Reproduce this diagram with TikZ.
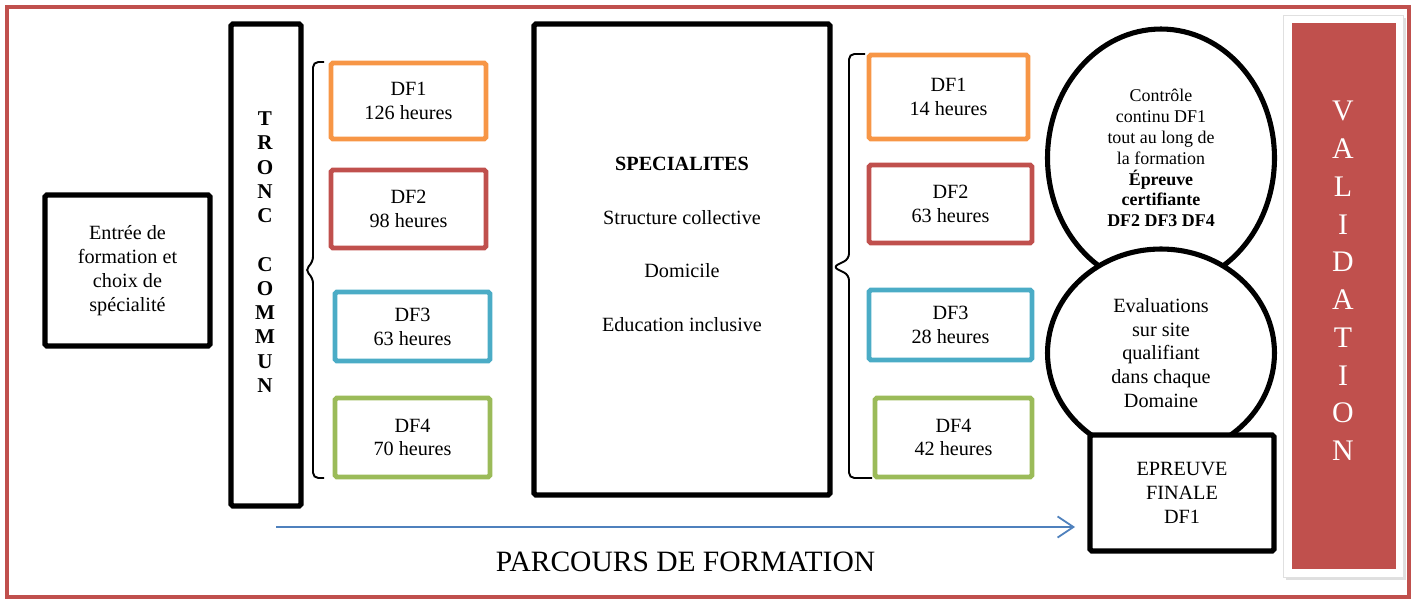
\documentclass[tikz,border=0pt]{standalone}
\usepackage{fontspec}
\setmainfont{Liberation Serif}
\usetikzlibrary{shapes.geometric,shadows,arrows.meta}
\definecolor{cadre}{HTML}{C0504D}
\definecolor{orangedf}{HTML}{F79646}
\definecolor{bleudf}{HTML}{4BACC6}
\definecolor{vertdf}{HTML}{9BBB59}
\definecolor{fleche}{HTML}{4F81BD}
\tikzset{
  bloc/.style={draw,line width=3pt,rounded corners=1pt,fill=white,align=center,font=\fontsize{11.5}{13.6}\selectfont},
  df/.style={draw=#1,line width=2.8pt,rounded corners=1pt,align=center,font=\fontsize{11.5}{13.6}\selectfont},
  bulle/.style={ellipse,draw,line width=2.9pt,fill=white,align=center,inner sep=0pt},
  accolade/.style={line width=1.1pt,rounded corners=3pt},
}
\begin{document}
\begin{tikzpicture}[x=0.02cm,y=-0.02cm]
\useasboundingbox (0,0) rectangle (1418,601);
\draw[cadre,line width=2.6pt] (7,7) rectangle (1409,597);
\path node[bloc,minimum width=3.3cm,minimum height=3.02cm] (entree) at (127.5,270.5) {Entrée de\\formation et\\choix de\\spécialité}
node[bloc,minimum width=1.4cm,minimum height=9.64cm] (tronc) at (266,265) {}
node[align=center,font=\fontsize{12}{13.8}\selectfont\bfseries] (troncTxt) at (265,252) {T\\R\\O\\N\\C\\~\\C\\O\\M\\M\\U\\N}
node[df=orangedf,minimum width=3.1cm,minimum height=1.52cm] (dfA1) at (408.5,101) {DF1\\126 heures}
node[df=cadre,minimum width=3.1cm,minimum height=1.56cm] (dfA2) at (408.5,209) {DF2\\98 heures}
node[df=bleudf,minimum width=3.1cm,minimum height=1.38cm] (dfA3) at (412.5,326.5) {DF3\\63 heures}
node[df=vertdf,minimum width=3.1cm,minimum height=1.58cm] (dfA4) at (412.5,437.5) {DF4\\70 heures}
node[bloc,minimum width=5.92cm,minimum height=9.42cm] (spec) at (682,259.5) {\textbf{SPECIALITES}\\[17pt]Structure collective\\[17pt]Domicile\\[17pt]Education inclusive\\[3.6pt]~}
node[df=orangedf,minimum width=3.18cm,minimum height=1.68cm] (dfB1) at (948.5,97) {DF1\\14 heures}
node[df=cadre,minimum width=3.26cm,minimum height=1.56cm] (dfB2) at (950.5,204) {DF2\\63 heures}
node[df=bleudf,minimum width=3.26cm,minimum height=1.4cm] (dfB3) at (950.5,325) {DF3\\28 heures}
node[df=vertdf,minimum width=3.14cm,minimum height=1.58cm] (dfB4) at (953.5,437.5) {DF4\\42 heures}
node[bulle,minimum width=4.54cm,minimum height=5.16cm,font=\fontsize{10.2}{11.9}\selectfont] (controle) at (1161,158) {Contrôle\\continu DF1\\tout au long de\\la formation\\\textbf{Épreuve}\\\textbf{certifiante}\\\textbf{DF2 DF3 DF4}}
node[bulle,minimum width=4.54cm,minimum height=4.16cm,font=\fontsize{11.5}{13.6}\selectfont] (evaluation) at (1161,353) {Evaluations\\sur site\\qualifiant\\dans chaque\\Domaine}
node[bloc,minimum width=3.68cm,minimum height=2.32cm] (finale) at (1182,493) {EPREUVE\\FINALE\\DF1}
node[fill=white,draw=black!12,line width=0.4pt,minimum width=2.4cm,minimum height=11.24cm,drop shadow={opacity=0.25,shadow xshift=1.5pt,shadow yshift=-1.5pt}] (cadreVal) at (1343,296) {}
node[fill=cadre,minimum width=2.08cm,minimum height=10.92cm] (valid) at (1344,296) {}
node[align=center,text=white,font=\fontsize{17}{21.5}\selectfont] (validTxt) at (1343,281) {V\\A\\L\\I\\D\\A\\T\\I\\O\\N}
node[font=\fontsize{16.8}{19}\selectfont] (parcours) at (685.5,562) {PARCOURS DE FORMATION}
;
\coordinate (depart) at (276,527);
\coordinate (arrivee) at (1075,527);
\draw[fleche,line width=1pt,-{Straight Barb[length=9pt,width=12pt]}] (depart) -- (arrivee);
\draw[accolade] (324,62) -| (313,262) -- (305,270) -- (313,278) |- (324,478);
\draw[accolade] (865,54) -| (849,259) -- (833,267) -- (849,275) |- (872,478);
\end{tikzpicture}
\end{document}
